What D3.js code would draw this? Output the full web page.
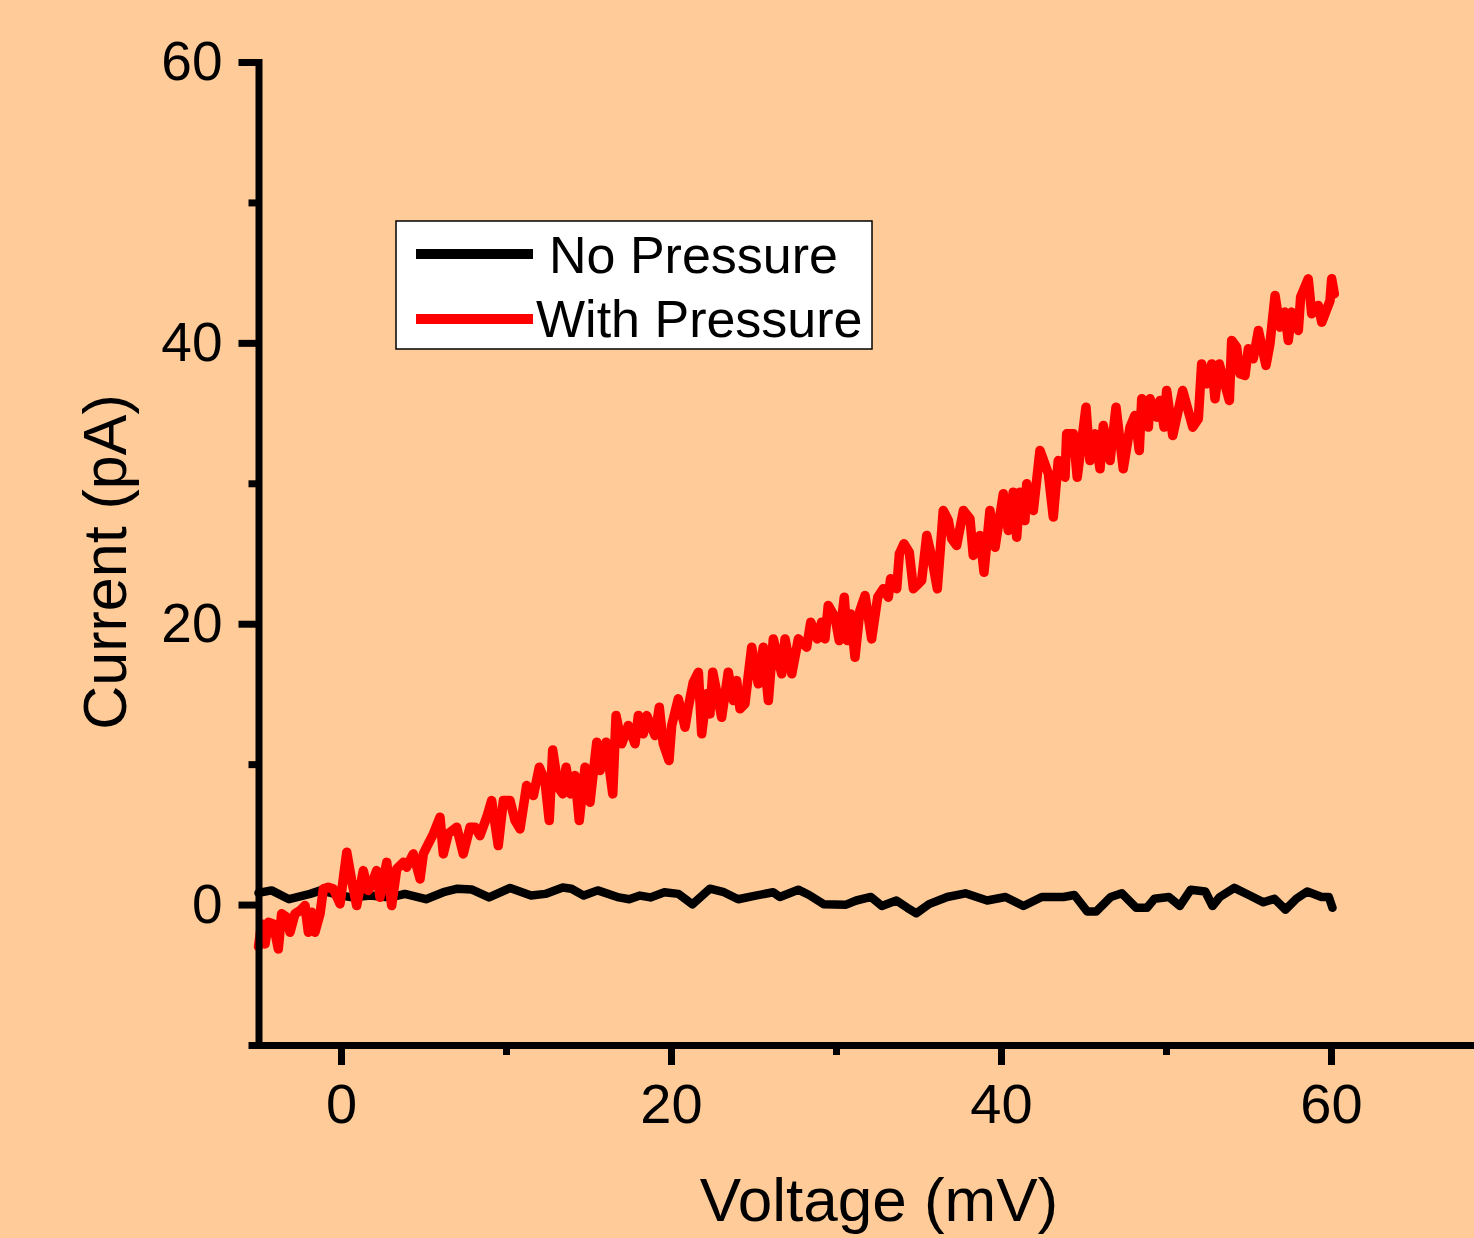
<!DOCTYPE html>
<html>
<head>
<meta charset="utf-8">
<script src="https://cdn.jsdelivr.net/npm/d3@7"></script>
<style>
  body { margin: 0; background: #FFCC99; }
  svg { display: block; font-family: "Liberation Sans", Arial, sans-serif; }
</style>
</head>
<body>
<svg width="1474" height="1238"></svg>
<script>
// No Pressure trace (voltage mV, current pA)
const voltageNoP = [-5, -4.21, -3.15, -1.87, -1.23, 0.04, 0.68, 1.75, 3.02, 3.87, 5.15, 6.21, 7.06, 7.91, 8.97,
  10.25, 11.52, 12.38, 13.44, 13.97, 14.71, 15.56, 16.84, 17.47, 18.12, 18.75, 19.6, 20.45, 21.3, 22.36, 23.21,
  24.07, 25.13, 26.19, 26.6, 27.71, 28.37, 29.25, 30.57, 31.23, 32.12, 32.78, 33.66, 34.32, 34.87, 35.64, 36.74,
  37.84, 39.16, 40.27, 41.36, 42.47, 43.79, 44.45, 45.22, 45.77, 46.65, 47.32, 48.19, 48.85, 49.3, 50.18, 50.84,
  51.5, 52.38, 52.82, 53.26, 54.14, 55.02, 55.91, 56.57, 57.24, 57.9, 58.56, 59.43, 59.87, 60.09]
const currentNoP = [0.83, 1.01, 0.38, 0.76, 1.01, 0.64, 0.51, 0.64, 0.51, 0.76, 0.38, 0.88, 1.13, 1.08, 0.51,
  1.18, 0.64, 0.76, 1.21, 1.13, 0.64, 1.01, 0.51, 0.38, 0.64, 0.51, 0.88, 0.76, 0.01, 1.13, 0.88,
  0.38, 0.64, 0.88, 0.54, 1.06, 0.68, 0.03, -0.02, 0.29, 0.54, -0.10, 0.29, -0.23, -0.62, 0.03, 0.54,
  0.80, 0.29, 0.54, -0.10, 0.54, 0.54, 0.68, -0.49, -0.49, 0.54, 0.80, -0.23, -0.23, 0.41, 0.54, -0.10,
  1.06, 0.93, -0.10, 0.54, 1.19, 0.68, 0.16, 0.41, -0.36, 0.41, 0.93, 0.54, 0.54, -0.23]

// With Pressure trace
const voltageP = [-5, -4.81, -4.6, -4.4, -4.1, -3.8, -3.6, -3.29, -3.09, -2.79, -2.48, -2.18, -1.98, -1.78, -1.58,
  -1.27, -1.07, -0.77, -0.47, -0.06, 0.35, 0.65, 0.95, 1.35, 1.65, 1.86, 2.16, 2.36, 2.77, 3.07, 3.38, 3.78,
  3.98, 4.38, 4.79, 4.99, 5.29, 5.6, 6.0, 6.2, 6.5, 7.01, 7.41, 7.82, 8.12, 8.42, 8.83, 9.13, 9.53, 9.84,
  10.24, 10.55, 10.85, 11.25, 11.66, 12.02, 12.36, 12.62, 12.83, 13.17, 13.44, 13.64, 13.92, 14.18, 14.44,
  14.79, 15.09, 15.5, 15.7, 16.06, 16.47, 16.67, 17.01, 17.41, 17.82, 18.02, 18.32, 18.53, 19.03, 19.29,
  19.53, 19.88, 20.04, 20.44, 20.85, 21.05, 21.35, 21.66, 21.86, 22.16, 22.36, 22.53, 23.07, 23.47, 23.78,
  23.98, 24.18, 24.48, 24.89, 25.29, 25.59, 25.9, 26.2, 26.71, 26.91, 27.32, 27.72, 28.22, 28.47, 28.87,
  29.13, 29.33, 29.53, 29.94, 30.2, 30.5, 30.69, 30.89, 31.15, 31.45, 31.76, 32.16, 32.53, 32.87, 33.17,
  33.31, 33.68, 33.84, 34.12, 34.44, 34.69, 34.99, 35.19, 35.5, 35.8, 36.14, 36.5, 36.81, 37.01, 37.31,
  37.72, 38.12, 38.32, 38.73, 38.97, 39.33, 39.64, 40.14, 40.44, 40.74, 40.95, 41.15, 41.45, 41.56, 41.96,
  42.36, 42.87, 43.17, 43.47, 43.88, 43.98, 44.38, 44.62, 45.15, 45.39, 45.7, 46.0, 46.2, 46.61, 46.97,
  47.41, 47.82, 48.12, 48.38, 48.53, 48.93, 49.03, 49.44, 49.64, 49.88, 50.04, 50.41, 50.65, 51.01, 51.62,
  51.96, 52.16, 52.47, 52.77, 52.97, 53.23, 53.84, 53.98, 54.28, 54.48, 54.79, 54.99, 55.29, 55.6, 56.06,
  56.3, 56.61, 56.91, 57.21, 57.41, 57.62, 58.02, 58.16, 58.62, 58.83, 59.23, 59.44, 59.94, 60.04, 60.2]
const currentP = [-3.0, -1.38, -2.8, -1.26, -1.38, -3.16, -0.66, -0.9, -1.97, -0.66, -0.43, -0.07, -1.97, -0.55, -1.97,
  -0.66, 1.12, 1.23, 1.12, 0.05, 3.73, 1.71, -0.07, 2.42, 1.0, 1.47, 2.42, 0.52, 3.01, -0.07, 2.54, 3.01,
  2.66, 3.61, 1.83, 3.61, 4.32, 5.04, 6.22, 3.61, 5.04, 5.51, 3.61, 5.51, 5.51, 4.91, 6.22, 7.41, 4.2, 7.41,
  7.41, 5.98, 5.39, 8.48, 7.76, 9.78, 8.83, 5.98, 11.0, 8.35, 7.88, 9.78, 7.88, 9.19, 5.98,
  9.78, 7.29, 11.56, 9.54, 11.56, 7.88, 13.46, 11.45, 12.75, 11.45, 13.46, 12.16, 13.46, 12.04, 14.05,
  11.45, 10.26, 12.75, 14.65, 12.63, 14.05, 15.83, 16.55, 12.16, 15.01, 13.58, 16.55, 13.34, 16.55, 14.53,
  15.95, 13.94, 14.29, 18.33, 15.72, 18.33, 14.53, 18.92, 16.43, 18.92, 16.43, 18.92, 18.33, 20.11, 18.92,
  20.11, 18.92, 21.3, 20.46, 18.8, 21.89, 18.8, 20.7, 17.61, 20.94, 22.01, 18.92, 21.89, 22.49, 21.89,
  23.2, 22.49, 24.98, 25.69, 25.09, 22.49, 22.84, 23.08, 26.28, 24.74, 22.49, 28.06, 27.35, 26.05, 25.57,
  28.06, 27.47, 24.86, 26.28, 23.67, 28.06, 25.45, 29.25, 26.64, 29.37, 26.16, 29.37, 27.35, 29.96, 28.06,
  32.34, 30.68, 27.6, 31.62, 30.43, 33.52, 33.52, 30.43, 35.42, 31.62, 33.52, 31.03, 34.11, 31.62, 35.42,
  31.03, 34.0, 34.83, 32.34, 36.02, 34.0, 36.02, 34.71, 35.9, 34.0, 36.61, 33.4, 34.71, 36.61, 34.0,
  34.59, 38.5, 37.08, 38.5, 36.02, 38.5, 35.9, 40.17, 39.7, 37.8, 37.68, 39.58, 38.87, 40.88, 38.39,
  39.93, 43.38, 41.12, 42.19, 40.17, 42.19, 40.88, 43.26, 44.56, 42.07, 42.66, 41.47, 43.0, 44.56, 43.49]

const xMajor = [0, 20, 40, 60]
const xMinor = [10, 30, 50, 70]
const yMajor = [0, 20, 40, 60]
const yMinor = [-10, 10, 30, 50]

const svg = d3.select('svg')
const width = +svg.attr('width')
const height = +svg.attr('height')

svg.append('rect').attr('width', width).attr('height', height).attr('fill', '#FFCC99')

const x = d3.scaleLinear().domain([-5, 70]).range([258.5, 1496])
const y = d3.scaleLinear().domain([-10, 60]).range([1045, 62])

const noP = voltageNoP.map((v, i) => [v, currentNoP[i]])
const withP = voltageP.map((v, i) => [v, currentP[i]])

const line = d3.line().x(d => x(d[0])).y(d => y(d[1]))

// data lines
svg.append('path')
  .datum(noP)
  .attr('d', line)
  .attr('fill', 'none')
  .attr('stroke', '#000')
  .attr('stroke-width', 8.5)
  .attr('stroke-linejoin', 'round')
  .attr('stroke-linecap', 'round')

svg.append('path')
  .datum(withP)
  .attr('d', line)
  .attr('fill', 'none')
  .attr('stroke', '#FF0000')
  .attr('stroke-width', 9.5)
  .attr('stroke-linejoin', 'round')
  .attr('stroke-linecap', 'round')

// axes
const xAxisG = svg.append('g')
  .attr('transform', `translate(0, ${y(-10)})`)
  .call(d3.axisBottom(x).tickValues(xMajor).tickSize(20).tickSizeOuter(0).tickFormat(d3.format('d')))
xAxisG.append('g')
  .call(d3.axisBottom(x).tickValues(xMinor).tickSize(10).tickSizeOuter(0).tickFormat(''))
  .select('.domain').remove()

const yAxisG = svg.append('g')
  .attr('transform', `translate(${x(-5)}, 0)`)
  .call(d3.axisLeft(y).tickValues(yMajor).tickSize(20).tickSizeOuter(0).tickFormat(d3.format('d')))
yAxisG.append('g')
  .call(d3.axisLeft(y).tickValues(yMinor).tickSize(10).tickSizeOuter(0).tickFormat(''))
  .select('.domain').remove()

svg.selectAll('.domain').attr('stroke', '#000').attr('stroke-width', 7).attr('stroke-linecap', 'square')
svg.selectAll('.tick line').attr('stroke', '#000').attr('stroke-width', 7)

xAxisG.selectAll('.tick text')
  .attr('y', 38)
  .attr('dy', '0.71em')
  .attr('font-size', 56)
  .attr('fill', '#000')
  .attr('font-family', '"Liberation Sans", Arial, sans-serif')

yAxisG.selectAll('.tick text')
  .attr('x', -36)
  .attr('dy', '0.32em')
  .attr('font-size', 55)
  .attr('fill', '#000')
  .attr('font-family', '"Liberation Sans", Arial, sans-serif')

// axis titles
svg.append('text')
  .attr('x', 879)
  .attr('y', 1221)
  .attr('text-anchor', 'middle')
  .attr('font-size', 62)
  .text('Voltage (mV)')

svg.append('text')
  .attr('transform', 'translate(126, 562) rotate(-90)')
  .attr('text-anchor', 'middle')
  .attr('font-size', 61)
  .text('Current (pA)')

// legend
const legend = svg.append('g')
legend.append('rect')
  .attr('x', 396).attr('y', 221)
  .attr('width', 476).attr('height', 128)
  .attr('fill', '#fff')
  .attr('stroke', '#000')
  .attr('stroke-width', 1.5)

legend.append('line')
  .attr('x1', 416).attr('x2', 533).attr('y1', 254).attr('y2', 254)
  .attr('stroke', '#000').attr('stroke-width', 10)
legend.append('text')
  .attr('x', 549).attr('y', 273)
  .attr('font-size', 52)
  .text('No Pressure')

legend.append('line')
  .attr('x1', 416).attr('x2', 533).attr('y1', 319).attr('y2', 319)
  .attr('stroke', '#FF0000').attr('stroke-width', 10)
legend.append('text')
  .attr('x', 536).attr('y', 337)
  .attr('font-size', 52)
  .text('With Pressure')
</script>
</body>
</html>
